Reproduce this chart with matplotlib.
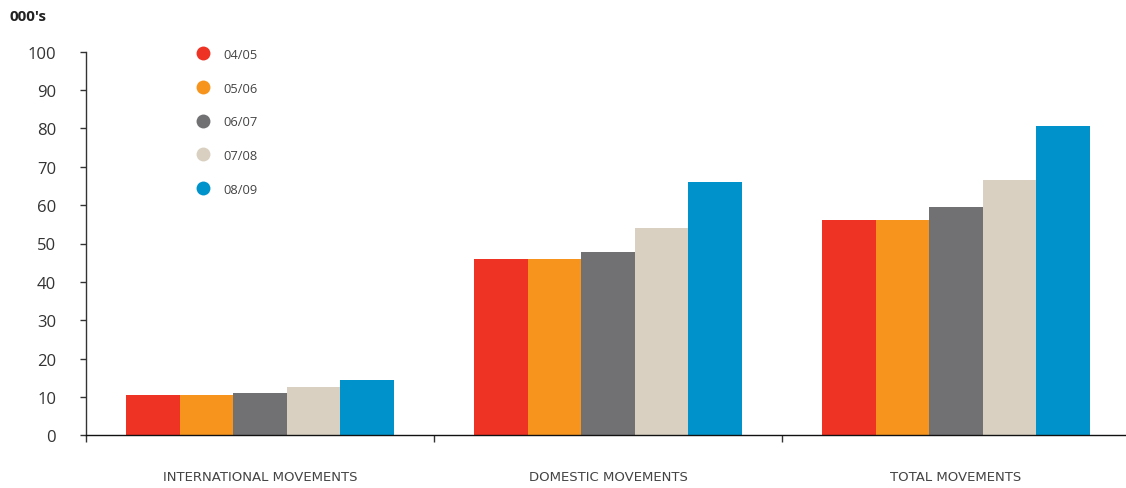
import matplotlib
matplotlib.use("Agg")
import matplotlib.pyplot as plt
import numpy as np
from matplotlib.lines import Line2D

plt.rcParams['font.family'] = ['Open Sans', 'DejaVu Sans']

# Aircraft movements by financial year (thousands)
categories = ["INTERNATIONAL MOVEMENTS", "DOMESTIC MOVEMENTS", "TOTAL MOVEMENTS"]
years = ["04/05", "05/06", "06/07", "07/08", "08/09"]
mov_0405 = [10.5, 45.9, 56.2]
mov_0506 = [10.5, 45.9, 56.2]
mov_0607 = [11.0, 47.9, 59.4]
mov_0708 = [12.5, 54.1, 66.6]
mov_0809 = [14.5, 66.1, 80.7]
series = [mov_0405, mov_0506, mov_0607, mov_0708, mov_0809]
colours = ["#EE3224", "#F7941D", "#717073", "#D9D0C1", "#0093CB"]
y_ticks = [0, 10, 20, 30, 40, 50, 60, 70, 80, 90, 100]

fig = plt.figure(figsize=(11.26, 4.89), dpi=100)
ax = fig.add_axes([86 / 1126, 1 - 436.3 / 489, 1 - 86 / 1126, (436.3 - 52.7) / 489])

x = np.arange(len(categories))
width = 0.154
for i, (vals, col) in enumerate(zip(series, colours)):
    ax.bar(x + (i - 2) * width, vals, width, color=col, label=years[i], linewidth=0)

ax.set_xlim(-0.5, 2.4885)
ax.set_ylim(0, 100)

# spines
for s in ["top", "right"]:
    ax.spines[s].set_visible(False)
ax.spines["left"].set_color("#333333")
ax.spines["left"].set_linewidth(1.0)
ax.spines["bottom"].set_color("#111111")
ax.spines["bottom"].set_linewidth(1.0)

# y axis
ax.set_yticks(y_ticks)
ax.tick_params(axis="y", direction="out", length=4.5, width=1.0, color="#333333",
               pad=17, labelsize=12, labelcolor="#333333")

# x axis: separator ticks between groups, category names as minor labels
ax.set_xticks([-0.5, 0.5, 1.5])
ax.set_xticklabels([])
ax.tick_params(axis="x", which="major", direction="out", length=5, width=1.0, color="#333333")
ax.set_xticks(x, minor=True)
ax.set_xticklabels(categories, minor=True, fontfamily=["DejaVu Sans"])
ax.tick_params(axis="x", which="minor", length=0, pad=25, labelsize=9.5, labelcolor="#444444")

fig.text(10 / 1126, 1 - 17 / 489, "000's", fontsize=11, fontweight="bold",
         color="#222222", va="center", ha="left")

handles = [Line2D([], [], marker="o", linestyle="none", markersize=10,
                  markerfacecolor=c, markeredgecolor="none") for c in colours]
ax.legend(handles, years, loc="upper left",
          bbox_to_anchor=(196.5 / 1126, 1 - 49 / 489), bbox_transform=fig.transFigure,
          frameon=False, borderpad=0, borderaxespad=0, handlelength=1.0,
          handletextpad=1.1, labelspacing=1.6, fontsize=9.3, labelcolor="#444444")

fig.savefig("out.png", dpi=100)
